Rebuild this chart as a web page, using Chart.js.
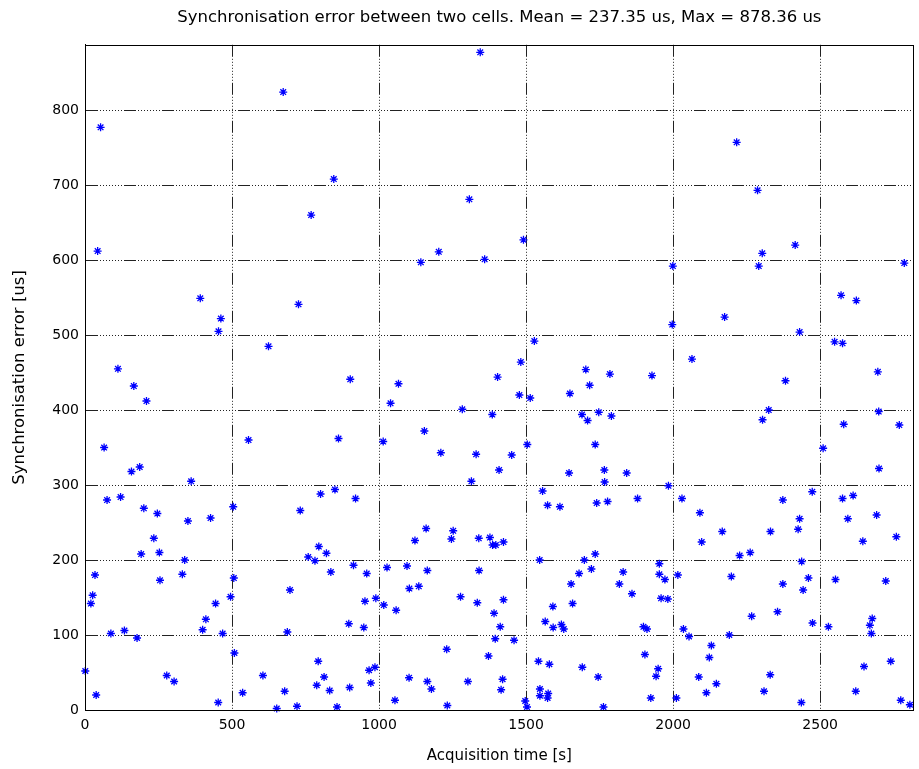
<!DOCTYPE html>
<html>
<head>
<meta charset="utf-8">
<script src="https://cdn.jsdelivr.net/npm/chart.js@4.4.0/dist/chart.umd.min.js"></script>
<style>
  body { margin: 0; background: #fff; }
  #wrap { width: 919px; height: 769px; }
</style>
</head>
<body>
<div id="wrap"><canvas id="syncChart" width="919" height="769"></canvas></div>
<script>
// Acquisition time [s] of each measurement
const acqTime = [
  1, 20, 26, 34, 43, 38, 53, 65, 75, 88, 112, 121, 134, 158, 166, 177, 186, 191, 200, 209,
  234, 246, 253, 255, 278, 303, 331, 339, 350, 361, 392, 400, 411, 427, 444, 453, 454, 462, 468, 495,
  504, 506, 508,
  536, 556, 605, 624, 652, 674, 679, 688, 697, 721, 726, 732, 759, 769, 782, 788, 793, 795, 801, 813,
  821, 832, 836, 846, 850, 857, 862, 897, 900, 902, 913, 920, 948, 952, 958, 966, 972, 986, 989,
  1014, 1016, 1027, 1039, 1054, 1058, 1066, 1095, 1102, 1103, 1122, 1135, 1142, 1154, 1160, 1164, 1164, 1178,
  1203, 1210, 1230, 1232, 1246, 1252, 1277, 1283, 1302, 1307, 1314, 1330, 1334, 1339, 1340, 1344, 1359, 1372,
  1377, 1385, 1386, 1391, 1395, 1397, 1403, 1408, 1412, 1415, 1420, 1423, 1423, 1451, 1459, 1477, 1482, 1491,
  1497, 1503,
  1504, 1514, 1528, 1542, 1546, 1547, 1547, 1556, 1565, 1573, 1573, 1575, 1579, 1591, 1592, 1615, 1620, 1628,
  1646, 1649, 1653, 1658, 1680, 1690, 1691, 1698, 1703, 1709, 1716, 1722, 1735, 1735, 1740, 1745, 1747, 1763,
  1766, 1767, 1777, 1785, 1790, 1817, 1830, 1842, 1860, 1879, 1899, 1904, 1911, 1924, 1928, 1942, 1949, 1953,
  1953, 1959, 1972, 1982, 1984, 1997, 1999,
  2011, 2016, 2030, 2035, 2054, 2064, 2087, 2091, 2097, 2113, 2123, 2130, 2147, 2167, 2175, 2191, 2198, 2216,
  2226, 2262, 2267, 2287, 2291, 2303, 2304, 2309, 2325, 2330, 2331, 2355, 2373, 2373, 2382, 2415, 2425, 2430,
  2430, 2436, 2437, 2442, 2460, 2473, 2474,
  2510, 2528, 2549, 2552, 2571, 2576, 2576, 2580, 2594, 2612, 2621, 2623, 2645, 2649, 2669, 2674, 2677, 2692,
  2696, 2699, 2700, 2723, 2740, 2759, 2769, 2774, 2786, 2805
];

// Synchronisation error [us] of each measurement
const syncError = [
  52, 142, 153, 180, 612, 20, 777, 350, 280, 102, 455, 284, 106, 318, 432, 96, 324, 208, 269, 412,
  229, 262, 210, 173, 46, 38, 181, 200, 252, 305, 549, 107, 121, 256, 142, 10, 505, 522, 102, 151,
  271, 176, 76,
  23, 360, 46, 485, 2, 824, 25, 104, 160, 5, 541, 266, 204, 660, 199, 33, 65, 218, 288, 44,
  209, 26, 184, 708, 294, 4, 362, 115, 30, 441, 193, 282, 110, 145, 182, 53, 36, 57, 149,
  358, 140, 190, 409, 13, 133, 435, 192, 43, 162, 226, 165, 597, 372, 242, 186, 38, 28,
  611, 343, 81, 6, 228, 239, 151, 401, 38, 681, 305, 341, 143, 229, 186, 877, 601, 72,
  230, 394, 220, 129, 95, 220, 444, 320, 111, 27, 41, 224, 147, 340, 93, 420, 464, 627,
  12, 4,
  354, 416, 492, 65, 200, 28, 19, 292, 118, 273, 16, 22, 61, 138, 110, 271, 114, 108,
  316, 422, 168, 142, 182, 394, 57, 200, 454, 386, 433, 188, 354, 208, 276, 44, 397, 4,
  320, 304, 278, 448, 392, 168, 184, 316, 155, 282, 111, 74, 108, 16, 446, 45, 55, 195,
  181, 149, 174, 148, 299, 514, 592,
  16, 180, 282, 108, 98, 468, 44, 263, 224, 23, 70, 86, 35, 238, 524, 100, 178, 757,
  206, 210, 125, 693, 592, 609, 387, 25, 400, 47, 238, 131, 280, 168, 439, 620, 241, 255,
  504, 10, 198, 160, 176, 291, 116,
  349, 111, 491, 174, 553, 489, 282, 381, 255, 286, 25, 546, 225, 58, 113, 102, 122, 260,
  451, 398, 322, 172, 65, 231, 380, 13, 596, 7
];

const xTicks = [0, 500, 1000, 1500, 2000, 2500];
const yTicks = [0, 100, 200, 300, 400, 500, 600, 700, 800];

const meanError = 237.35;
const maxError = 878.36;

const puntos = acqTime.map((t, i) => ({ x: t, y: syncError[i] }));

const familia = "'DejaVu Sans', sans-serif";
const fuenteTicks = { family: familia, size: 14, weight: 'normal' };
const gridDash = [12, 2, 1, 2, 1, 2, 1, 2, 1, 2, 1, 2, 1, 2, 1, 2, 1, 2];

// gnuplot style frame round the plot area
const framePlugin = {
  id: 'frame',
  afterDraw(chart) {
    const { ctx, chartArea } = chart;
    ctx.save();
    ctx.strokeStyle = '#000';
    ctx.lineWidth = 1;
    ctx.strokeRect(Math.round(chartArea.left) + 0.5, Math.round(chartArea.top) + 0.5,
      Math.round(chartArea.right - chartArea.left) - 1, Math.round(chartArea.bottom - chartArea.top));
    ctx.restore();
  }
};

new Chart(document.getElementById('syncChart'), {
  type: 'scatter',
  data: {
    datasets: [{
      label: 'sync error',
      data: puntos,
      pointStyle: 'star',
      pointRadius: 4,
      pointHoverRadius: 4,
      borderColor: '#0000ff',
      backgroundColor: '#0000ff',
      pointBorderWidth: 1.3,
      clip: false
    }]
  },
  options: {
    responsive: false,
    animation: false,
    layout: { padding: { left: 0, right: 2, top: 0, bottom: 0 } },
    plugins: {
      legend: { display: false },
      tooltip: { enabled: false },
      title: {
        display: true,
        fullSize: false, // centred over the plot area like gnuplot
        text: 'Synchronisation error between two cells. Mean = ' + meanError.toFixed(2) +
          ' us, Max = ' + maxError.toFixed(2) + ' us',
        color: '#000',
        font: { family: familia, size: 16.5, weight: 'normal' },
        padding: { top: 8, bottom: 17 }
      }
    },
    scales: {
      x: {
        type: 'linear',
        min: 0,
        max: 2818,
        afterFit: (scale) => { scale.height = 59; },
        afterBuildTicks: (scale) => { scale.ticks = xTicks.map(v => ({ value: v })); },
        ticks: { color: '#000', font: fuenteTicks, padding: 7, includeBounds: false, callback: (v) => String(v) },
        grid: { color: '#222', lineWidth: 1, drawTicks: false },
        border: { display: true, color: '#000', dash: gridDash },
        title: { display: true, text: 'Acquisition time [s]', color: '#000',
          font: { family: familia, size: 15, weight: 'normal' }, padding: { top: 0, bottom: 4 } }
      },
      y: {
        type: 'linear',
        min: 0,
        max: 887,
        afterFit: (scale) => { scale.width = 85; },
        afterBuildTicks: (scale) => { scale.ticks = yTicks.map(v => ({ value: v })); },
        ticks: { color: '#000', font: fuenteTicks, padding: 6, includeBounds: false, callback: (v) => String(v) },
        grid: { color: '#222', lineWidth: 1, drawTicks: false },
        border: { display: true, color: '#000', dash: gridDash },
        title: { display: true, text: 'Synchronisation error [us]', color: '#000',
          font: { family: familia, size: 16.5, weight: 'normal' }, padding: { top: 10, bottom: 0 } }
      }
    }
  },
  plugins: [framePlugin]
});
</script>
</body>
</html>
